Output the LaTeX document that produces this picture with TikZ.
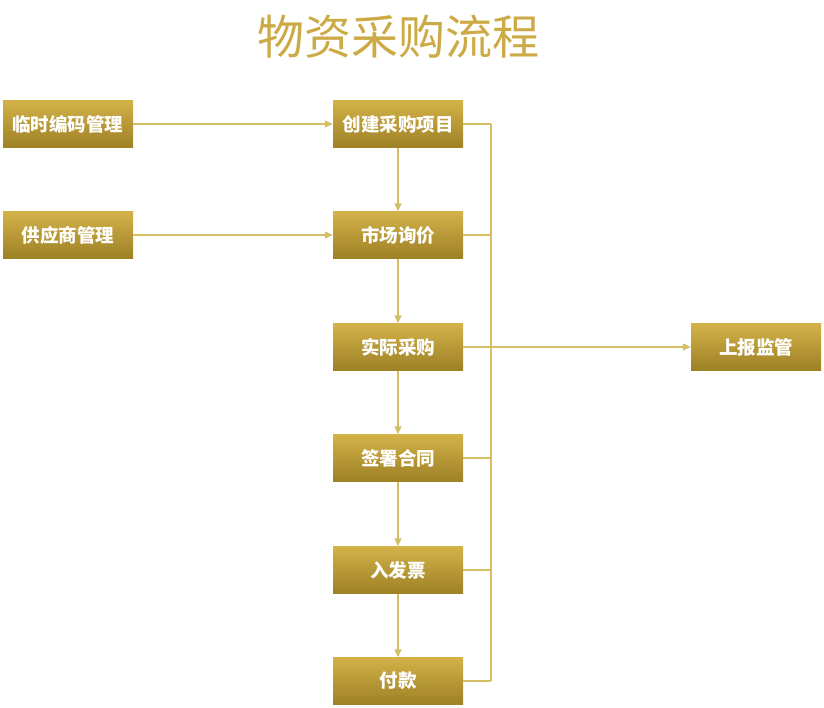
\documentclass[tikz,border=0pt]{standalone}
\usepackage{fontspec}
\newfontfamily\cjk{Noto Sans CJK SC}
\usetikzlibrary{arrows.meta,shadings}
\definecolor{titlegold}{RGB}{204,170,70}
\definecolor{boxtop}{RGB}{210,178,72}
\definecolor{boxbot}{RGB}{158,128,38}
\definecolor{linegold}{RGB}{214,190,100}
\begin{document}
\begin{tikzpicture}[x=1pt,y=-1pt,
  procbox/.style={minimum width=130pt,minimum height=47pt,inner sep=0pt,
    top color=boxtop,bottom color=boxbot,draw=none,
    text=white,font=\cjk\bfseries\fontsize{18.5}{21}\selectfont},
  conn/.style={draw=linegold,line width=1.1pt},
  arr/.style={conn,-{Triangle[length=8pt,width=7pt]}}]
\useasboundingbox (0,0) rectangle (824,708);
\node[text=titlegold,font=\cjk\fontsize{47}{52}\selectfont] (title) at (398,37) {物资采购流程};
\node[procbox] (l1) at (68,124) {临时编码管理};
\node[procbox] (l2) at (68,235) {供应商管理};
\node[procbox] (c1) at (398,124) {创建采购项目};
\node[procbox] (c2) at (398,235) {市场询价};
\node[procbox] (c3) at (398,347) {实际采购};
\node[procbox] (c4) at (398,458) {签署合同};
\node[procbox] (c5) at (398,570) {入发票};
\node[procbox] (c6) at (398,681) {付款};
\node[procbox] (r1) at (756,347) {上报监管};
\coordinate (ttop) at (491,124);
\coordinate (tbot) at (491,681);
\draw[arr] (l1) -- (c1);
\draw[arr] (l2) -- (c2);
\draw[arr] (c1) -- (c2);
\draw[arr] (c2) -- (c3);
\draw[arr] (c3) -- (c4);
\draw[arr] (c4) -- (c5);
\draw[arr] (c5) -- (c6);
\foreach \n in {c1,c2,c4,c5,c6} \draw[conn] (\n.east) -- (\n.east -| ttop);
\draw[conn] (ttop) -- (tbot);
\draw[arr] (c3) -- (r1);
\end{tikzpicture}
\end{document}
